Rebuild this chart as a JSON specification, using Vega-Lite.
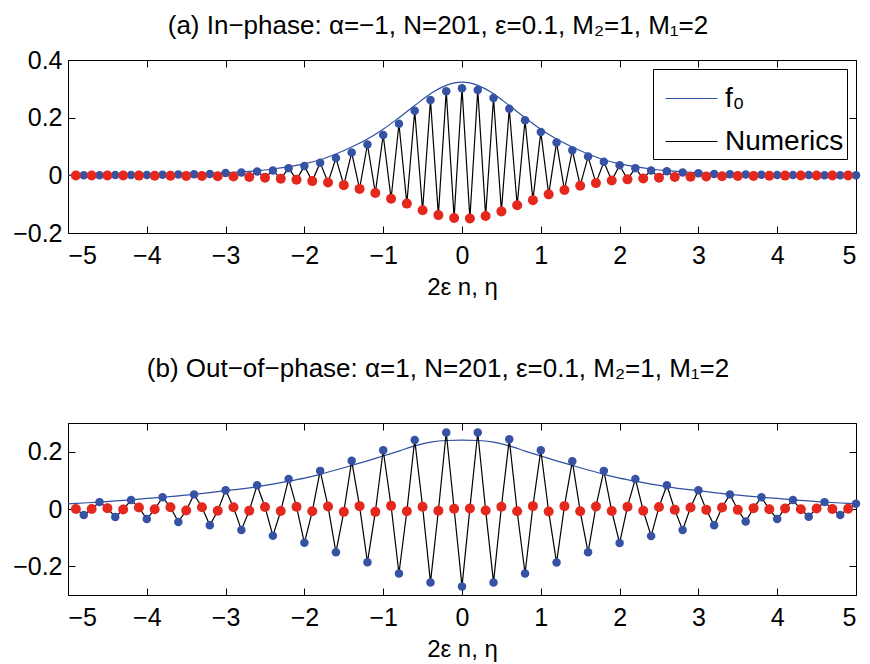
{
  "$schema": "https://vega.github.io/schema/vega-lite/v6.json",
  "background": "white",
  "padding": {"top": 12, "left": 12, "right": 10, "bottom": 0},
  "config": {
    "font": "Liberation Sans",
    "view": {"stroke": "black", "strokeWidth": 1},
    "axis": {"grid": false, "domain": false, "tickColor": "black", "tickSize": -7, "tickWidth": 1, "labelFontSize": 25, "labelColor": "black", "titleFontSize": 24, "titleFontWeight": "normal", "titleColor": "black", "labelFont": "Liberation Sans", "titleFont": "Liberation Sans"},
    "title": {"fontSize": 26, "fontWeight": "normal", "color": "black", "font": "Liberation Sans"}
  },
  "datasets": {
    "a_num": [
      {"x": -4.9, "y": -0.0003, "c": "r"}, {"x": -4.8, "y": 0.0005, "c": "b"}, {"x": -4.7, "y": -0.0004, "c": "r"}, {"x": -4.6, "y": 0.0006, "c": "b"},
      {"x": -4.5, "y": -0.0005, "c": "r"}, {"x": -4.4, "y": 0.0008, "c": "b"}, {"x": -4.3, "y": -0.0007, "c": "r"}, {"x": -4.2, "y": 0.001, "c": "b"},
      {"x": -4.1, "y": -0.0009, "c": "r"}, {"x": -4.0, "y": 0.0013, "c": "b"}, {"x": -3.9, "y": -0.0012, "c": "r"}, {"x": -3.8, "y": 0.0018, "c": "b"},
      {"x": -3.7, "y": -0.0016, "c": "r"}, {"x": -3.6, "y": 0.0025, "c": "b"}, {"x": -3.5, "y": -0.002, "c": "r"}, {"x": -3.4, "y": 0.0035, "c": "b"},
      {"x": -3.3, "y": -0.0025, "c": "r"}, {"x": -3.2, "y": 0.005, "c": "b"}, {"x": -3.1, "y": -0.003, "c": "r"}, {"x": -3.0, "y": 0.008, "c": "b"},
      {"x": -2.9, "y": -0.004, "c": "r"}, {"x": -2.8, "y": 0.010, "c": "b"}, {"x": -2.7, "y": -0.006, "c": "r"}, {"x": -2.6, "y": 0.013, "c": "b"},
      {"x": -2.5, "y": -0.008, "c": "r"}, {"x": -2.4, "y": 0.017, "c": "b"}, {"x": -2.3, "y": -0.012, "c": "r"}, {"x": -2.2, "y": 0.025, "c": "b"},
      {"x": -2.1, "y": -0.015, "c": "r"}, {"x": -2.0, "y": 0.032, "c": "b"}, {"x": -1.9, "y": -0.020, "c": "r"}, {"x": -1.8, "y": 0.044, "c": "b"},
      {"x": -1.7, "y": -0.025, "c": "r"}, {"x": -1.6, "y": 0.060, "c": "b"}, {"x": -1.5, "y": -0.034, "c": "r"}, {"x": -1.4, "y": 0.079, "c": "b"},
      {"x": -1.3, "y": -0.047, "c": "r"}, {"x": -1.2, "y": 0.107, "c": "b"}, {"x": -1.1, "y": -0.061, "c": "r"}, {"x": -1.0, "y": 0.140, "c": "b"},
      {"x": -0.9, "y": -0.081, "c": "r"}, {"x": -0.8, "y": 0.179, "c": "b"}, {"x": -0.7, "y": -0.098, "c": "r"}, {"x": -0.6, "y": 0.224, "c": "b"},
      {"x": -0.5, "y": -0.121, "c": "r"}, {"x": -0.4, "y": 0.261, "c": "b"}, {"x": -0.3, "y": -0.138, "c": "r"}, {"x": -0.2, "y": 0.292, "c": "b"},
      {"x": -0.1, "y": -0.148, "c": "r"}, {"x": 0.0, "y": 0.302, "c": "b"}, {"x": 0.1, "y": -0.150, "c": "r"}, {"x": 0.2, "y": 0.296, "c": "b"},
      {"x": 0.3, "y": -0.141, "c": "r"}, {"x": 0.4, "y": 0.268, "c": "b"}, {"x": 0.5, "y": -0.125, "c": "r"}, {"x": 0.6, "y": 0.231, "c": "b"},
      {"x": 0.7, "y": -0.104, "c": "r"}, {"x": 0.8, "y": 0.191, "c": "b"}, {"x": 0.9, "y": -0.086, "c": "r"}, {"x": 1.0, "y": 0.150, "c": "b"},
      {"x": 1.1, "y": -0.066, "c": "r"}, {"x": 1.2, "y": 0.114, "c": "b"}, {"x": 1.3, "y": -0.051, "c": "r"}, {"x": 1.4, "y": 0.087, "c": "b"},
      {"x": 1.5, "y": -0.036, "c": "r"}, {"x": 1.6, "y": 0.065, "c": "b"}, {"x": 1.7, "y": -0.027, "c": "r"}, {"x": 1.8, "y": 0.047, "c": "b"},
      {"x": 1.9, "y": -0.018, "c": "r"}, {"x": 2.0, "y": 0.035, "c": "b"}, {"x": 2.1, "y": -0.014, "c": "r"}, {"x": 2.2, "y": 0.025, "c": "b"},
      {"x": 2.3, "y": -0.011, "c": "r"}, {"x": 2.4, "y": 0.017, "c": "b"}, {"x": 2.5, "y": -0.008, "c": "r"}, {"x": 2.6, "y": 0.014, "c": "b"},
      {"x": 2.7, "y": -0.006, "c": "r"}, {"x": 2.8, "y": 0.010, "c": "b"}, {"x": 2.9, "y": -0.005, "c": "r"}, {"x": 3.0, "y": 0.007, "c": "b"},
      {"x": 3.1, "y": -0.004, "c": "r"}, {"x": 3.2, "y": 0.005, "c": "b"}, {"x": 3.3, "y": -0.003, "c": "r"}, {"x": 3.4, "y": 0.0035, "c": "b"},
      {"x": 3.5, "y": -0.0025, "c": "r"}, {"x": 3.6, "y": 0.0025, "c": "b"}, {"x": 3.7, "y": -0.002, "c": "r"}, {"x": 3.8, "y": 0.0018, "c": "b"},
      {"x": 3.9, "y": -0.0015, "c": "r"}, {"x": 4.0, "y": 0.0013, "c": "b"}, {"x": 4.1, "y": -0.001, "c": "r"}, {"x": 4.2, "y": 0.001, "c": "b"},
      {"x": 4.3, "y": -0.0008, "c": "r"}, {"x": 4.4, "y": 0.0008, "c": "b"}, {"x": 4.5, "y": -0.0006, "c": "r"}, {"x": 4.6, "y": 0.0006, "c": "b"},
      {"x": 4.7, "y": -0.0005, "c": "r"}, {"x": 4.8, "y": 0.0005, "c": "b"}, {"x": 4.9, "y": -0.0004, "c": "r"}, {"x": 5.0, "y": 0.0004, "c": "b"}
    ],
    "a_f0": [
      {"x": -5.0, "y": 0.0004}, {"x": -4.8, "y": 0.0006}, {"x": -4.6, "y": 0.0008}, {"x": -4.4, "y": 0.001}, {"x": -4.2, "y": 0.0014},
      {"x": -4.0, "y": 0.0019}, {"x": -3.8, "y": 0.0026}, {"x": -3.6, "y": 0.0035}, {"x": -3.4, "y": 0.0048}, {"x": -3.2, "y": 0.0065},
      {"x": -3.0, "y": 0.009}, {"x": -2.8, "y": 0.012}, {"x": -2.6, "y": 0.016}, {"x": -2.4, "y": 0.022}, {"x": -2.2, "y": 0.030},
      {"x": -2.0, "y": 0.040}, {"x": -1.8, "y": 0.054}, {"x": -1.6, "y": 0.074}, {"x": -1.4, "y": 0.098}, {"x": -1.2, "y": 0.126},
      {"x": -1.0, "y": 0.160}, {"x": -0.8, "y": 0.200}, {"x": -0.6, "y": 0.242}, {"x": -0.4, "y": 0.283}, {"x": -0.2, "y": 0.312},
      {"x": 0.0, "y": 0.323},
      {"x": 0.2, "y": 0.312}, {"x": 0.4, "y": 0.283}, {"x": 0.6, "y": 0.242}, {"x": 0.8, "y": 0.200}, {"x": 1.0, "y": 0.160},
      {"x": 1.2, "y": 0.126}, {"x": 1.4, "y": 0.098}, {"x": 1.6, "y": 0.074}, {"x": 1.8, "y": 0.054}, {"x": 2.0, "y": 0.040},
      {"x": 2.2, "y": 0.030}, {"x": 2.4, "y": 0.022}, {"x": 2.6, "y": 0.016}, {"x": 2.8, "y": 0.012}, {"x": 3.0, "y": 0.009},
      {"x": 3.2, "y": 0.0065}, {"x": 3.4, "y": 0.0048}, {"x": 3.6, "y": 0.0035}, {"x": 3.8, "y": 0.0026}, {"x": 4.0, "y": 0.0019},
      {"x": 4.2, "y": 0.0014}, {"x": 4.4, "y": 0.001}, {"x": 4.6, "y": 0.0008}, {"x": 4.8, "y": 0.0006}, {"x": 5.0, "y": 0.0004}
    ],
    "b_num": [
      {"x": -4.9, "y": 0.0, "c": "r"}, {"x": -4.8, "y": -0.021, "c": "b"}, {"x": -4.7, "y": 0.0, "c": "r"}, {"x": -4.6, "y": 0.024, "c": "b"},
      {"x": -4.5, "y": 0.003, "c": "r"}, {"x": -4.4, "y": -0.028, "c": "b"}, {"x": -4.3, "y": -0.002, "c": "r"}, {"x": -4.2, "y": 0.031, "c": "b"},
      {"x": -4.1, "y": 0.005, "c": "r"}, {"x": -4.0, "y": -0.035, "c": "b"}, {"x": -3.9, "y": -0.001, "c": "r"}, {"x": -3.8, "y": 0.041, "c": "b"},
      {"x": -3.7, "y": 0.006, "c": "r"}, {"x": -3.6, "y": -0.045, "c": "b"}, {"x": -3.5, "y": -0.005, "c": "r"}, {"x": -3.4, "y": 0.051, "c": "b"},
      {"x": -3.3, "y": 0.006, "c": "r"}, {"x": -3.2, "y": -0.057, "c": "b"}, {"x": -3.1, "y": -0.006, "c": "r"}, {"x": -3.0, "y": 0.065, "c": "b"},
      {"x": -2.9, "y": 0.006, "c": "r"}, {"x": -2.8, "y": -0.073, "c": "b"}, {"x": -2.7, "y": -0.006, "c": "r"}, {"x": -2.6, "y": 0.083, "c": "b"},
      {"x": -2.5, "y": 0.007, "c": "r"}, {"x": -2.4, "y": -0.093, "c": "b"}, {"x": -2.3, "y": -0.007, "c": "r"}, {"x": -2.2, "y": 0.105, "c": "b"},
      {"x": -2.1, "y": 0.008, "c": "r"}, {"x": -2.0, "y": -0.118, "c": "b"}, {"x": -1.9, "y": -0.008, "c": "r"}, {"x": -1.8, "y": 0.133, "c": "b"},
      {"x": -1.7, "y": 0.009, "c": "r"}, {"x": -1.6, "y": -0.151, "c": "b"}, {"x": -1.5, "y": -0.010, "c": "r"}, {"x": -1.4, "y": 0.168, "c": "b"},
      {"x": -1.3, "y": 0.010, "c": "r"}, {"x": -1.2, "y": -0.186, "c": "b"}, {"x": -1.1, "y": -0.010, "c": "r"}, {"x": -1.0, "y": 0.205, "c": "b"},
      {"x": -0.9, "y": 0.011, "c": "r"}, {"x": -0.8, "y": -0.225, "c": "b"}, {"x": -0.7, "y": -0.008, "c": "r"}, {"x": -0.6, "y": 0.241, "c": "b"},
      {"x": -0.5, "y": 0.008, "c": "r"}, {"x": -0.4, "y": -0.256, "c": "b"}, {"x": -0.3, "y": -0.006, "c": "r"}, {"x": -0.2, "y": 0.267, "c": "b"},
      {"x": -0.1, "y": 0.001, "c": "r"}, {"x": 0.0, "y": -0.270, "c": "b"}, {"x": 0.1, "y": 0.002, "c": "r"}, {"x": 0.2, "y": 0.267, "c": "b"},
      {"x": 0.3, "y": -0.005, "c": "r"}, {"x": 0.4, "y": -0.256, "c": "b"}, {"x": 0.5, "y": 0.008, "c": "r"}, {"x": 0.6, "y": 0.243, "c": "b"},
      {"x": 0.7, "y": -0.008, "c": "r"}, {"x": 0.8, "y": -0.225, "c": "b"}, {"x": 0.9, "y": 0.010, "c": "r"}, {"x": 1.0, "y": 0.205, "c": "b"},
      {"x": 1.1, "y": -0.009, "c": "r"}, {"x": 1.2, "y": -0.187, "c": "b"}, {"x": 1.3, "y": 0.010, "c": "r"}, {"x": 1.4, "y": 0.167, "c": "b"},
      {"x": 1.5, "y": -0.008, "c": "r"}, {"x": 1.6, "y": -0.151, "c": "b"}, {"x": 1.7, "y": 0.009, "c": "r"}, {"x": 1.8, "y": 0.133, "c": "b"},
      {"x": 1.9, "y": -0.007, "c": "r"}, {"x": 2.0, "y": -0.119, "c": "b"}, {"x": 2.1, "y": 0.008, "c": "r"}, {"x": 2.2, "y": 0.105, "c": "b"},
      {"x": 2.3, "y": -0.006, "c": "r"}, {"x": 2.4, "y": -0.094, "c": "b"}, {"x": 2.5, "y": 0.007, "c": "r"}, {"x": 2.6, "y": 0.083, "c": "b"},
      {"x": 2.7, "y": -0.003, "c": "r"}, {"x": 2.8, "y": -0.073, "c": "b"}, {"x": 2.9, "y": 0.005, "c": "r"}, {"x": 3.0, "y": 0.065, "c": "b"},
      {"x": 3.1, "y": -0.003, "c": "r"}, {"x": 3.2, "y": -0.057, "c": "b"}, {"x": 3.3, "y": 0.005, "c": "r"}, {"x": 3.4, "y": 0.051, "c": "b"},
      {"x": 3.5, "y": -0.003, "c": "r"}, {"x": 3.6, "y": -0.044, "c": "b"}, {"x": 3.7, "y": 0.003, "c": "r"}, {"x": 3.8, "y": 0.041, "c": "b"},
      {"x": 3.9, "y": -0.001, "c": "r"}, {"x": 4.0, "y": -0.035, "c": "b"}, {"x": 4.1, "y": 0.002, "c": "r"}, {"x": 4.2, "y": 0.031, "c": "b"},
      {"x": 4.3, "y": -0.001, "c": "r"}, {"x": 4.4, "y": -0.027, "c": "b"}, {"x": 4.5, "y": 0.002, "c": "r"}, {"x": 4.6, "y": 0.024, "c": "b"},
      {"x": 4.7, "y": 0.0, "c": "r"}, {"x": 4.8, "y": -0.021, "c": "b"}, {"x": 4.9, "y": 0.001, "c": "r"}, {"x": 5.0, "y": 0.018, "c": "b"}
    ],
    "b_f0": [
      {"x": -5.0, "y": 0.018}, {"x": -4.8, "y": 0.021}, {"x": -4.6, "y": 0.024}, {"x": -4.4, "y": 0.028}, {"x": -4.2, "y": 0.032},
      {"x": -4.0, "y": 0.037}, {"x": -3.8, "y": 0.041}, {"x": -3.6, "y": 0.046}, {"x": -3.4, "y": 0.051}, {"x": -3.2, "y": 0.057},
      {"x": -3.0, "y": 0.064}, {"x": -2.8, "y": 0.070}, {"x": -2.6, "y": 0.078}, {"x": -2.4, "y": 0.087}, {"x": -2.2, "y": 0.097},
      {"x": -2.0, "y": 0.108}, {"x": -1.8, "y": 0.121}, {"x": -1.6, "y": 0.136}, {"x": -1.4, "y": 0.152}, {"x": -1.2, "y": 0.168},
      {"x": -1.0, "y": 0.185}, {"x": -0.8, "y": 0.202}, {"x": -0.6, "y": 0.220}, {"x": -0.4, "y": 0.233}, {"x": -0.2, "y": 0.239},
      {"x": 0.0, "y": 0.240},
      {"x": 0.2, "y": 0.239}, {"x": 0.4, "y": 0.233}, {"x": 0.6, "y": 0.220}, {"x": 0.8, "y": 0.202}, {"x": 1.0, "y": 0.185},
      {"x": 1.2, "y": 0.168}, {"x": 1.4, "y": 0.152}, {"x": 1.6, "y": 0.136}, {"x": 1.8, "y": 0.121}, {"x": 2.0, "y": 0.108},
      {"x": 2.2, "y": 0.097}, {"x": 2.4, "y": 0.087}, {"x": 2.6, "y": 0.078}, {"x": 2.8, "y": 0.070}, {"x": 3.0, "y": 0.064},
      {"x": 3.2, "y": 0.057}, {"x": 3.4, "y": 0.051}, {"x": 3.6, "y": 0.046}, {"x": 3.8, "y": 0.041}, {"x": 4.0, "y": 0.037},
      {"x": 4.2, "y": 0.032}, {"x": 4.4, "y": 0.028}, {"x": 4.6, "y": 0.024}, {"x": 4.8, "y": 0.021}, {"x": 5.0, "y": 0.018}
    ]
  },
  "spacing": 55,
  "resolve": {"scale": {"color": "independent"}, "legend": {"color": "independent"}},
  "vconcat": [
    {
      "width": 788,
      "height": 173,
      "title": {"text": "(a) In−phase: α=−1, N=201, ε=0.1, M₂=1, M₁=2", "offset": -12, "baseline": "alphabetic", "dx": -24},
      "resolve": {"axis": {"x": "independent", "y": "independent"}},
      "layer": [
        {
          "data": {"name": "a_f0"},
          "mark": {"type": "line", "strokeWidth": 1.2, "interpolate": "monotone"},
          "encoding": {
            "x": {"field": "x", "type": "quantitative", "scale": {"domain": [-5, 5], "nice": false}, "axis": {"orient": "bottom", "values": [-5, -4, -3, -2, -1, 0, 1, 2, 3, 4, 5], "format": "d", "labelPadding": 17, "title": "2ε n, η", "titlePadding": 7}},
            "y": {"field": "y", "type": "quantitative", "scale": {"domain": [-0.2, 0.4], "nice": false}, "axis": {"orient": "left", "values": [-0.2, 0, 0.2, 0.4], "format": ".1~f", "labelPadding": 13, "title": null}},
            "color": {"datum": "f₀", "type": "nominal", "scale": {"domain": ["f₀", "Numerics"], "range": ["#2f4fa0", "#000000"]},
              "legend": {"title": null, "orient": "top-right", "offset": 9, "strokeColor": "black", "fillColor": "white", "padding": 3, "symbolOffset": 9, "symbolType": "stroke", "symbolSize": 2704, "symbolStrokeWidth": 1, "labelFontSize": 28, "labelOffset": 7, "labelColor": "black", "rowPadding": 2, "labelFont": "Liberation Sans"}}
          }
        },
        {
          "data": {"name": "a_num"},
          "mark": {"type": "line", "strokeWidth": 1.2},
          "encoding": {
            "x": {"field": "x", "type": "quantitative", "axis": {"orient": "top", "values": [-5, -4, -3, -2, -1, 0, 1, 2, 3, 4, 5], "labels": false, "title": null, "minExtent": 0, "maxExtent": 0}},
            "y": {"field": "y", "type": "quantitative", "axis": {"orient": "right", "values": [-0.2, 0, 0.2, 0.4], "labels": false, "title": null, "minExtent": 0, "maxExtent": 0}},
            "color": {"datum": "Numerics", "type": "nominal"}
          }
        },
        {
          "data": {"name": "a_num"},
          "transform": [{"filter": "datum.c == 'b'"}],
          "mark": {"type": "circle", "size": 72, "opacity": 1, "color": "#3552a4"},
          "encoding": {
            "x": {"field": "x", "type": "quantitative", "axis": null},
            "y": {"field": "y", "type": "quantitative", "axis": null}
          }
        },
        {
          "data": {"name": "a_num"},
          "transform": [{"filter": "datum.c == 'r'"}],
          "mark": {"type": "circle", "size": 100, "opacity": 1, "color": "#e5281d"},
          "encoding": {
            "x": {"field": "x", "type": "quantitative", "axis": null},
            "y": {"field": "y", "type": "quantitative", "axis": null}
          }
        }
      ]
    },
    {
      "width": 788,
      "height": 172,
      "title": {"text": "(b) Out−of−phase: α=1, N=201, ε=0.1, M₂=1, M₁=2", "offset": 20, "baseline": "alphabetic", "dx": -24},
      "resolve": {"axis": {"x": "independent", "y": "independent"}},
      "layer": [
        {
          "data": {"name": "b_f0"},
          "mark": {"type": "line", "strokeWidth": 1.2, "interpolate": "monotone", "color": "#2f4fa0"},
          "encoding": {
            "x": {"field": "x", "type": "quantitative", "scale": {"domain": [-5, 5], "nice": false}, "axis": {"orient": "bottom", "values": [-5, -4, -3, -2, -1, 0, 1, 2, 3, 4, 5], "format": "d", "labelPadding": 17, "title": "2ε n, η", "titlePadding": 7}},
            "y": {"field": "y", "type": "quantitative", "scale": {"domain": [-0.3, 0.3], "nice": false}, "axis": {"orient": "left", "values": [-0.2, 0, 0.2], "format": ".1~f", "labelPadding": 13, "title": null}}
          }
        },
        {
          "data": {"name": "b_num"},
          "mark": {"type": "line", "strokeWidth": 1.2, "color": "#000000"},
          "encoding": {
            "x": {"field": "x", "type": "quantitative", "axis": {"orient": "top", "values": [-5, -4, -3, -2, -1, 0, 1, 2, 3, 4, 5], "labels": false, "title": null, "minExtent": 0, "maxExtent": 0}},
            "y": {"field": "y", "type": "quantitative", "axis": {"orient": "right", "values": [-0.2, 0, 0.2], "labels": false, "title": null, "minExtent": 0, "maxExtent": 0}}
          }
        },
        {
          "data": {"name": "b_num"},
          "transform": [{"filter": "datum.c == 'b'"}],
          "mark": {"type": "circle", "size": 72, "opacity": 1, "color": "#3552a4"},
          "encoding": {
            "x": {"field": "x", "type": "quantitative", "axis": null},
            "y": {"field": "y", "type": "quantitative", "axis": null}
          }
        },
        {
          "data": {"name": "b_num"},
          "transform": [{"filter": "datum.c == 'r'"}],
          "mark": {"type": "circle", "size": 100, "opacity": 1, "color": "#e5281d"},
          "encoding": {
            "x": {"field": "x", "type": "quantitative", "axis": null},
            "y": {"field": "y", "type": "quantitative", "axis": null}
          }
        }
      ]
    }
  ]
}
